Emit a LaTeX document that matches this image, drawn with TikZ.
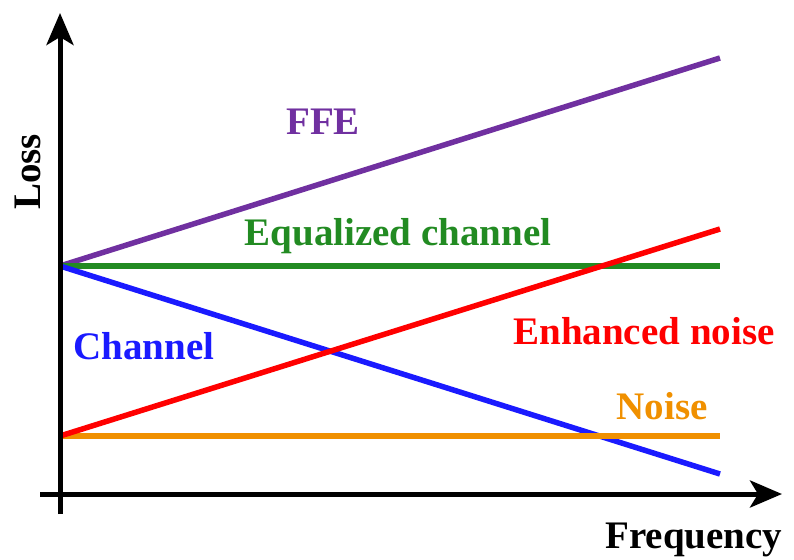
\documentclass[tikz,border=0pt]{standalone}
\usepackage{fontspec}
\setmainfont{Liberation Serif}
\usetikzlibrary{arrows.meta}
\definecolor{ffecol}{RGB}{112,48,160}
\definecolor{eqcol}{RGB}{34,139,34}
\definecolor{chcol}{RGB}{26,26,255}
\definecolor{encol}{RGB}{255,0,0}
\definecolor{nocol}{RGB}{240,144,0}
\tikzset{
  axisline/.style={line width=5pt,-{Stealth[length=32pt,width=27pt,inset=8pt]}},
  curve/.style={line width=5.5pt},
  lbl/.style={font=\bfseries\fontsize{39}{42}\selectfont,inner sep=0pt},
}
\begin{document}
\begin{tikzpicture}[x=1pt,y=-1pt]
\useasboundingbox (0,0) rectangle (794,559);
% end points of the lines
\coordinate (origin) at (60,266);
\coordinate (low) at (60,436);
\coordinate (ffeend) at (720,58);
\coordinate (eqend) at (720,266);
\coordinate (chend) at (720,474);
\coordinate (enend) at (720,229);
\coordinate (noend) at (720,436);
% lines
\draw[curve,ffecol] (origin) -- (ffeend);
\draw[curve,eqcol] (origin) -- (eqend);
\draw[curve,chcol] (origin) -- (chend);
\draw[curve,nocol] (low) -- (noend);
\draw[curve,encol] (low) -- (enend);
% labels
\node[lbl,text=ffecol] (ffe) at (323,122) {FFE};
\node[lbl,text=eqcol] (eq) at (398,236) {Equalized channel};
\node[lbl,text=chcol] (ch) at (144,346) {Channel};
\node[lbl,text=encol] (en) at (644,331) {Enhanced noise};
\node[lbl,text=nocol] (no) at (662,406) {Noise};
% axes
\coordinate (ybot) at (60,514);
\coordinate (ytop) at (60,13);
\coordinate (xleft) at (40,494);
\coordinate (xright) at (782,494);
\draw[axisline] (ybot) -- (ytop);
\draw[axisline] (xleft) -- (xright);
\node[lbl,rotate=90] (loss) at (28,172) {Loss};
\node[lbl] (freq) at (694,540) {Frequency};
\end{tikzpicture}
\end{document}
